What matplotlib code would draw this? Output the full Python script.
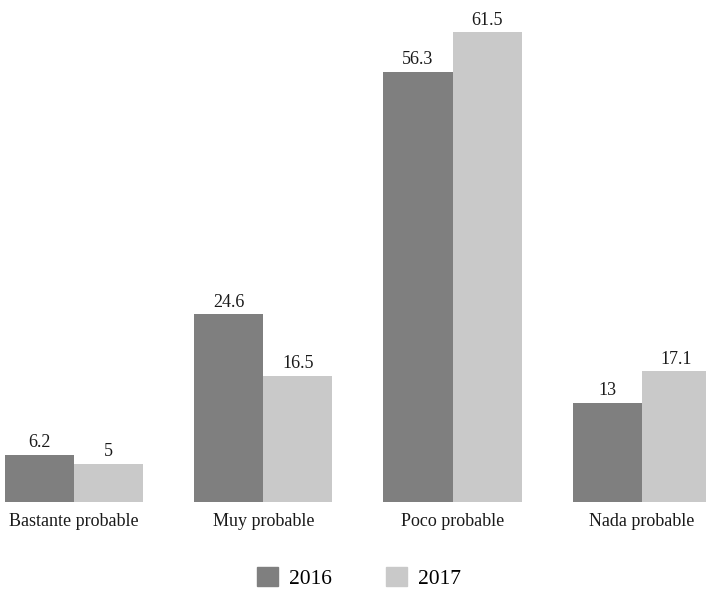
import matplotlib
matplotlib.use("Agg")
import matplotlib.pyplot as plt
import numpy as np
from matplotlib.patches import Patch

categories = ["Bastante probable", "Muy probable", "Poco probable", "Nada probable"]
series_names = ["2016", "2017"]
values_2016 = [6.2, 24.6, 56.3, 13]
values_2017 = [5, 16.5, 61.5, 17.1]
value_labels_2016 = ["6.2", "24.6", "56.3", "13"]
value_labels_2017 = ["5", "16.5", "61.5", "17.1"]

colors = ["#7f7f7f", "#c9c9c9"]
plt.rcParams["font.family"] = ["Liberation Serif", "DejaVu Serif"]

fig = plt.figure(figsize=(7.06, 5.92), dpi=100)
ax = fig.add_axes([0, 90 / 592, 1, 502 / 592])

x = np.arange(len(categories))
w = 0.365
b1 = ax.bar(x - w / 2, values_2016, w, color=colors[0])
b2 = ax.bar(x + w / 2, values_2017, w, color=colors[1])

for bars, labels in ((b1, value_labels_2016), (b2, value_labels_2017)):
    for rect, lab in zip(bars, labels):
        ax.annotate(lab, (rect.get_x() + rect.get_width() / 2, rect.get_height()),
                    xytext=(0, 2.5), textcoords="offset points",
                    ha="center", va="bottom", fontsize=13, color="#1a1a1a")

ax.set_xlim(-0.391, 3.339)
ax.set_ylim(0, 65.69)
ax.set_xticks(x)
ax.set_xticklabels(categories, fontsize=13, color="#1a1a1a")
ax.tick_params(axis="x", length=0, pad=8)
ax.set_yticks([])
for s in ax.spines.values():
    s.set_visible(False)

handles = [Patch(color=c, label=n) for c, n in zip(colors, series_names)]
fig.legend(handles=handles, loc="center", bbox_to_anchor=(0.5085, 1 - 578 / 592),
           ncol=2, frameon=False, fontsize=15.5, handlelength=0.95, handleheight=0.95,
           columnspacing=2.55, handletextpad=0.5)

fig.savefig("out.png", dpi=100)
